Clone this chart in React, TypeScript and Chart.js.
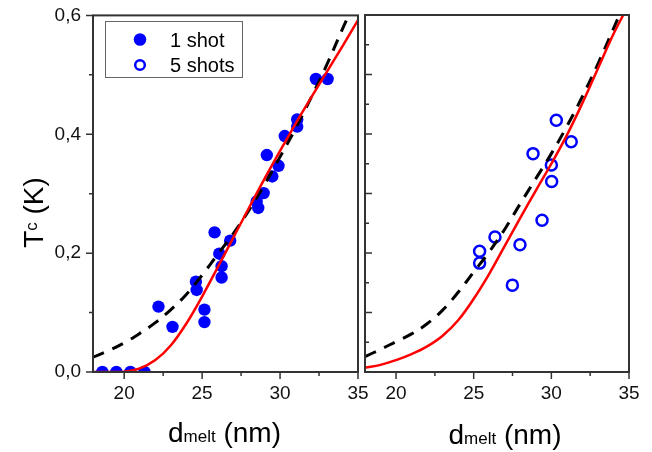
import { useEffect, useRef } from 'react';
import { Chart, registerables } from 'chart.js';
Chart.register(...registerables);

// ---------- data ----------
const oneShotD = [18.6, 19.5, 20.4, 21.3, 22.2, 23.1, 24.6, 24.65, 25.15, 25.15, 25.8, 26.1, 26.25, 26.25, 26.8, 28.5, 28.6, 28.95, 29.15, 29.5, 29.9, 30.3, 31.1, 31.1, 32.3, 33.05];
const oneShotTc = [0, 0, 0, 0, 0.110, 0.076, 0.152, 0.138, 0.105, 0.084, 0.235, 0.199, 0.178, 0.159, 0.221, 0.287, 0.276, 0.301, 0.365, 0.329, 0.347, 0.397, 0.413, 0.425, 0.493, 0.493];

const fiveShotD = [30.32, 31.28, 28.82, 30.0, 30.02, 29.4, 26.37, 27.98, 25.38, 25.38, 27.49];
const fiveShotTc = [0.423, 0.387, 0.367, 0.348, 0.32, 0.255, 0.227, 0.214, 0.203, 0.183, 0.146];

const redLeftD = [18, 19, 20, 21, 22, 23, 24, 25, 26, 27, 28, 29, 30, 31, 32, 33, 34, 35];
const redLeftTc = [0, 0, 0.0005, 0.006, 0.02, 0.045, 0.082, 0.127, 0.176, 0.226, 0.276, 0.325, 0.372, 0.418, 0.462, 0.505, 0.548, 0.592];

const dashLeftD = [18, 19, 20, 21, 22, 23, 24, 25, 26, 27, 28, 29, 30, 31, 32, 33, 34, 34.4];
const dashLeftTc = [0.025, 0.036, 0.049, 0.065, 0.083, 0.105, 0.131, 0.163, 0.198, 0.233, 0.272, 0.315, 0.362, 0.41, 0.462, 0.517, 0.577, 0.6];

const redRightD = [18, 19, 20, 21, 22, 23, 24, 25, 26, 27, 28, 29, 30, 31, 32, 33, 34, 34.63];
const redRightTc = [0.007, 0.012, 0.02, 0.03, 0.043, 0.061, 0.087, 0.123, 0.165, 0.212, 0.259, 0.305, 0.35, 0.398, 0.452, 0.51, 0.568, 0.6];

const dashRightD = [18, 19, 20, 21, 22, 23, 24, 25, 26, 27, 28, 29, 30, 31, 32, 33, 34, 34.38];
const dashRightTc = [0.026, 0.038, 0.051, 0.064, 0.081, 0.104, 0.134, 0.168, 0.202, 0.24, 0.283, 0.325, 0.367, 0.413, 0.463, 0.518, 0.577, 0.6];

const xTickValues = [20, 25, 30, 35];
const xMinorTicks = [22.5, 27.5, 32.5];
const yTickValues = [0, 0.2, 0.4, 0.6];
const yMinorTicks = [0.1, 0.3, 0.5];
const rightYMajor = [0.1, 0.2, 0.3, 0.4, 0.5];
const rightYMinor = [0.05, 0.15, 0.25, 0.35, 0.45, 0.55];

const legendLabels = ['1 shot', '5 shots'];
const yTitleParts = ['T', 'c', ' (K)'];
const xTitleParts = ['d', 'melt', ' (nm)'];

// ---------- style ----------
const FONT = '"Liberation Sans", Arial, sans-serif';
const BLUE = 'rgb(0,0,255)';
const RED = 'rgb(255,0,0)';
const AXIS = '#333333';

const pts = (xs: number[], ys: number[]) => xs.map((x, i) => ({ x, y: ys[i] }));

const lineDs = (xs: number[], ys: number[], color: string, dash: number[], width: number, monotone: boolean) => ({
  data: pts(xs, ys),
  showLine: true,
  pointRadius: 0,
  borderColor: color,
  borderWidth: width,
  borderDash: dash,
  cubicInterpolationMode: monotone ? 'monotone' : 'default',
  tension: monotone ? 0 : 0.4,
  clip: 0,
});

function drawMixed(ctx: CanvasRenderingContext2D, parts: [string, number, number][], cx: number, y: number) {
  const widths = parts.map(([t, s]) => {
    ctx.font = `${s}px ${FONT}`;
    return ctx.measureText(t).width;
  });
  const total = widths.reduce((a, b) => a + b, 0);
  let x = cx - total / 2;
  ctx.textAlign = 'left';
  ctx.textBaseline = 'alphabetic';
  parts.forEach(([t, s, dy], i) => {
    ctx.font = `${s}px ${FONT}`;
    ctx.fillText(t, x, y + dy);
    x += widths[i];
  });
}

function makePlugin(opts: {
  left: boolean;
  xTitleX: number;
  xTitleY: number;
}) {
  return {
    id: 'decor',
    afterDraw(chart: any) {
      const ctx: CanvasRenderingContext2D = chart.ctx;
      const { left, right, top, bottom } = chart.chartArea;
      const xs = chart.scales.x;
      const ys = chart.scales.y;
      ctx.save();
      // frame
      ctx.strokeStyle = AXIS;
      ctx.lineWidth = 2;
      ctx.strokeRect(left, top, right - left, bottom - top);
      // x ticks (outward)
      ctx.lineWidth = 1.5;
      ctx.beginPath();
      xTickValues.forEach((v) => {
        const p = xs.getPixelForValue(v);
        ctx.moveTo(p, bottom);
        ctx.lineTo(p, bottom + 7);
      });
      xMinorTicks.forEach((v) => {
        const p = xs.getPixelForValue(v);
        ctx.moveTo(p, bottom);
        ctx.lineTo(p, bottom + 4);
      });
      if (opts.left) {
        yTickValues.forEach((v) => {
          const p = ys.getPixelForValue(v);
          ctx.moveTo(left, p);
          ctx.lineTo(left - 7, p);
        });
        yMinorTicks.forEach((v) => {
          const p = ys.getPixelForValue(v);
          ctx.moveTo(left, p);
          ctx.lineTo(left - 4, p);
        });
      } else {
        rightYMajor.forEach((v) => {
          const p = ys.getPixelForValue(v);
          ctx.moveTo(left, p);
          ctx.lineTo(left + 7, p);
        });
        rightYMinor.forEach((v) => {
          const p = ys.getPixelForValue(v);
          ctx.moveTo(left, p);
          ctx.lineTo(left + 4, p);
        });
      }
      ctx.stroke();

      ctx.fillStyle = '#000';
      // x title
      drawMixed(ctx, [[xTitleParts[0], 28, 0], [xTitleParts[1], 17, 0], [xTitleParts[2], 28, 0]], opts.xTitleX, opts.xTitleY);

      if (opts.left) {
        // y title
        ctx.save();
        ctx.translate(43, 212.5);
        ctx.rotate(-Math.PI / 2);
        drawMixed(ctx, [[yTitleParts[0], 28, 0], [yTitleParts[1], 17, -6], [yTitleParts[2], 28, 0]], 0, 0);
        ctx.restore();

        // legend
        ctx.strokeStyle = '#666';
        ctx.lineWidth = 1;
        ctx.strokeRect(105.5, 21.5, 137, 56);
        ctx.fillStyle = BLUE;
        ctx.beginPath();
        ctx.arc(140, 39.5, 6.3, 0, Math.PI * 2);
        ctx.fill();
        ctx.strokeStyle = BLUE;
        ctx.lineWidth = 2.5;
        ctx.beginPath();
        ctx.arc(140, 65, 4.8, 0, Math.PI * 2);
        ctx.stroke();
        ctx.fillStyle = '#000';
        ctx.font = `20px ${FONT}`;
        ctx.textAlign = 'left';
        ctx.textBaseline = 'alphabetic';
        ctx.fillText(legendLabels[0], 170, 46.5);
        ctx.fillText(legendLabels[1], 170, 71.5);
      }
      ctx.restore();
    },
  };
}

function xScale() {
  return {
    type: 'linear',
    min: 18,
    max: 35,
    afterBuildTicks: (s: any) => {
      s.ticks = xTickValues.map((v) => ({ value: v }));
    },
    afterFit: (s: any) => {
      s.height = 40;
    },
    grid: { display: true, drawOnChartArea: false, drawTicks: true, tickLength: 8, color: 'rgba(0,0,0,0)' },
    border: { display: false },
    ticks: { padding: 2, font: { family: FONT, size: 19 }, color: '#111', maxRotation: 0, autoSkip: false },
  };
}

export default function App() {
  const leftRef = useRef<HTMLCanvasElement>(null);
  const rightRef = useRef<HTMLCanvasElement>(null);

  useEffect(() => {
    const left = new Chart(leftRef.current as HTMLCanvasElement, {
      type: 'scatter',
      data: {
        datasets: [
          lineDs(redLeftD, redLeftTc, RED, [], 2.5, true) as any,
          lineDs(dashLeftD, dashLeftTc, '#000', [12, 9], 3, false) as any,
          {
            data: pts(oneShotD, oneShotTc),
            showLine: false,
            pointRadius: 6.2,
            pointBackgroundColor: BLUE,
            pointBorderWidth: 0,
            clip: 0,
          } as any,
        ],
      },
      options: {
        animation: false,
        responsive: false,
        events: [],
        layout: { padding: { left: 0, top: 15, right: 294, bottom: 40 } },
        plugins: { legend: { display: false }, tooltip: { enabled: false } },
        scales: {
          x: xScale() as any,
          y: {
            type: 'linear',
            min: 0,
            max: 0.6,
            afterBuildTicks: (s: any) => {
              s.ticks = yTickValues.map((v) => ({ value: v }));
            },
            afterFit: (s: any) => {
              s.width = 93;
            },
            grid: { display: true, drawOnChartArea: false, drawTicks: true, tickLength: 8, color: 'rgba(0,0,0,0)' },
            border: { display: false },
            ticks: {
              padding: 4,
              font: { family: FONT, size: 19 },
              color: '#111',
              callback: (v: any) => Number(v).toFixed(1).replace('.', ','),
            },
          } as any,
        },
      },
      plugins: [makePlugin({ left: true, xTitleX: 224.5, xTitleY: 441.5 })],
    });

    const right = new Chart(rightRef.current as HTMLCanvasElement, {
      type: 'scatter',
      data: {
        datasets: [
          lineDs(redRightD, redRightTc, RED, [], 2.5, false) as any,
          lineDs(dashRightD, dashRightTc, '#000', [12, 9], 3, false) as any,
          {
            data: pts(fiveShotD, fiveShotTc),
            showLine: false,
            pointRadius: 5.5,
            pointBackgroundColor: 'rgba(0,0,0,0)',
            pointBorderColor: BLUE,
            pointBorderWidth: 2.5,
            clip: 0,
          } as any,
        ],
      },
      options: {
        animation: false,
        responsive: false,
        events: [],
        layout: { padding: { left: 365, top: 15, right: 23, bottom: 40 } },
        plugins: { legend: { display: false }, tooltip: { enabled: false } },
        scales: {
          x: xScale() as any,
          y: { type: 'linear', min: 0, max: 0.6, display: false } as any,
        },
      },
      plugins: [makePlugin({ left: false, xTitleX: 505, xTitleY: 443.5 })],
    });

    return () => {
      left.destroy();
      right.destroy();
    };
  }, []);

  return (
    <div style={{ position: 'fixed', left: 0, top: 0, width: 652, height: 452, background: '#fff' }}>
      <canvas ref={leftRef} width={652} height={452} style={{ position: 'absolute', left: 0, top: 0 }} />
      <canvas ref={rightRef} width={652} height={452} style={{ position: 'absolute', left: 0, top: 0 }} />
    </div>
  );
}
